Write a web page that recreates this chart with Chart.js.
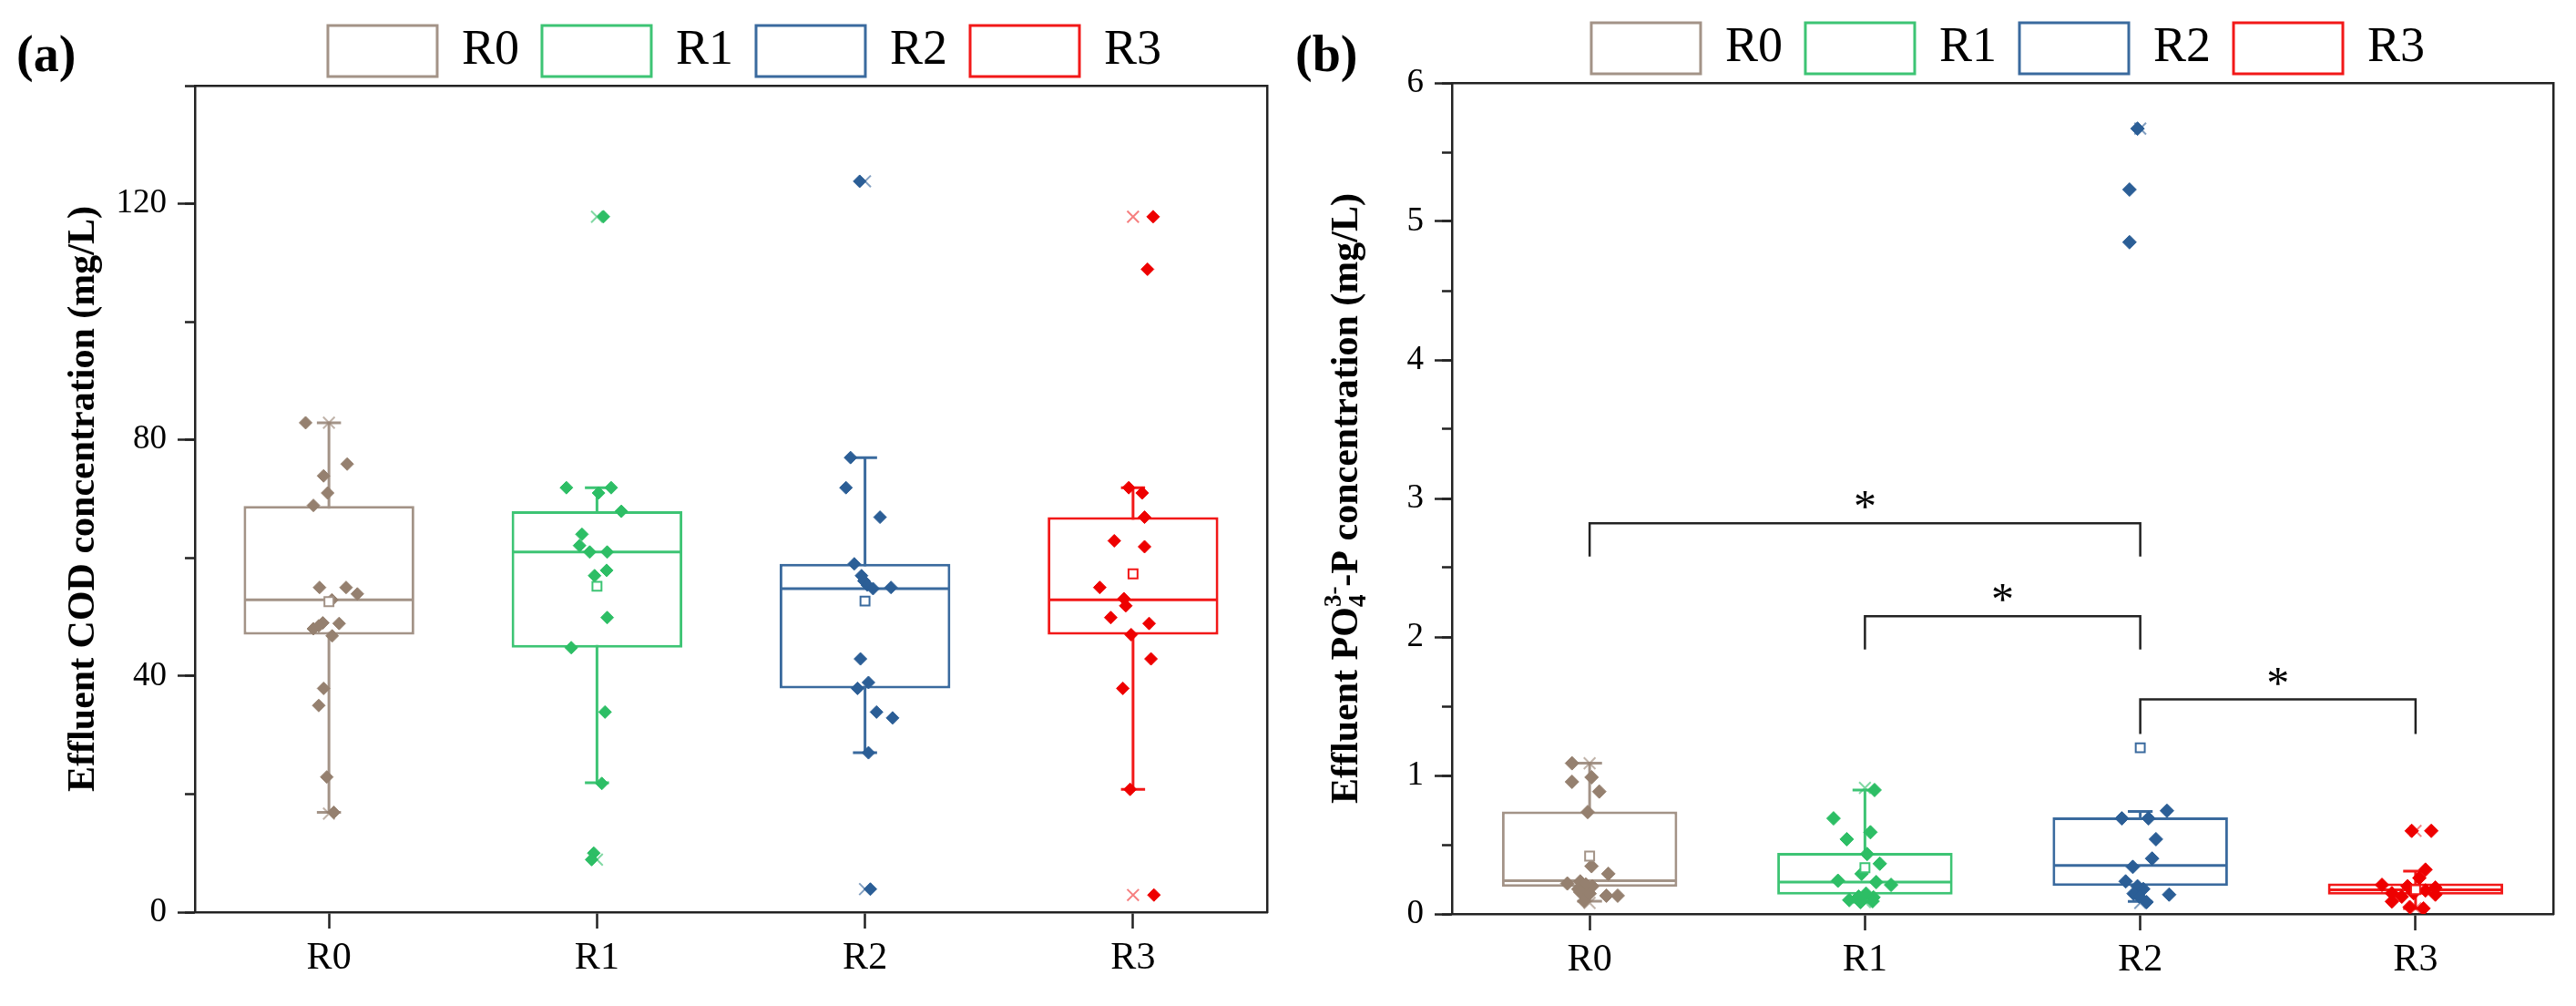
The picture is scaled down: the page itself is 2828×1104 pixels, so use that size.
<!DOCTYPE html>
<html>
<head>
<meta charset="utf-8">
<script src="https://cdn.jsdelivr.net/npm/chart.js@4.4.1/dist/chart.umd.min.js"></script>
<style>
html,body{margin:0;padding:0;background:#fff;}
#wrap{width:2828px;height:1104px;display:flex;}
.pane{width:1414px;height:1104px;position:relative;}
canvas{display:block;}
</style>
</head>
<body>
<div id="wrap">
  <div class="pane"><canvas id="ca" width="1414" height="1104"></canvas></div>
  <div class="pane"><canvas id="cb" width="1414" height="1104"></canvas></div>
</div>
<script>
// ---------------- DATA ----------------
const categories = ['R0', 'R1', 'R2', 'R3'];

// Panel (a): effluent COD (mg/L), individual observations and their horizontal jitter (category units)
const codR0 = [82.9, 75.9, 73.9, 71.0, 68.9, 55.0, 55.0, 53.9, 52.9, 49.0, 48.9, 48.5, 48.0, 46.8, 37.9, 35.0, 22.9, 16.9];
const codR0Jitter = [-0.087, 0.068, -0.020, -0.005, -0.058, -0.035, 0.064, 0.106, 0.011, -0.023, 0.038, -0.038, -0.058, 0.012, -0.020, -0.038, -0.008, 0.018];
const codR1 = [117.8, 71.9, 71.9, 71.0, 67.9, 64.0, 62.1, 61.0, 61.0, 57.9, 57.0, 49.9, 44.8, 33.9, 21.8, 10.0, 8.9];
const codR1Jitter = [0.024, -0.114, 0.053, 0.006, 0.091, -0.056, -0.065, -0.027, 0.038, 0.036, -0.009, 0.038, -0.096, 0.030, 0.018, -0.012, -0.020];
const codR2 = [123.8, 77.0, 71.9, 66.9, 59.0, 57.0, 56.1, 55.4, 54.8, 55.0, 42.9, 38.9, 37.9, 33.9, 32.9, 27.0, 3.9];
const codR2Jitter = [-0.020, -0.054, -0.071, 0.056, -0.040, -0.013, -0.004, 0.009, 0.030, 0.097, -0.017, 0.013, -0.028, 0.043, 0.103, 0.013, 0.020];
const codR3 = [117.8, 108.9, 71.9, 71.0, 66.9, 62.9, 61.9, 55.0, 53.1, 51.9, 49.9, 48.9, 47.0, 42.9, 37.9, 20.8, 2.9];
const codR3Jitter = [0.075, 0.054, -0.016, 0.034, 0.043, -0.070, 0.043, -0.124, -0.034, -0.027, -0.083, 0.060, -0.007, 0.067, -0.038, -0.011, 0.078];

const codQ1 = [47.0, 44.8, 37.9, 47.0];
const codMedian = [52.9, 61.0, 54.8, 52.9];
const codQ3 = [68.8, 67.9, 59.0, 66.9];
const codWhiskerLow = [16.9, 21.9, 27.0, 20.8];
const codWhiskerHigh = [82.9, 71.9, 77.0, 71.9];
const codMean = [52.6, 55.2, 52.7, 57.3];
const codMin = [16.7, 8.9, 3.9, 2.9];
const codMax = [82.9, 117.8, 123.8, 117.8];
const codTicks = [0, 40, 80, 120];
const codMinorTicks = [0, 20, 40, 60, 80, 100, 120, 140];

// Panel (b): effluent PO4(3-)-P (mg/L)
const poR0 = [1.088, 0.987, 0.954, 0.884, 0.736, 0.345, 0.290, 0.235, 0.220, 0.213, 0.200, 0.180, 0.158, 0.147, 0.132, 0.132, 0.092];
const poR0Jitter = [-0.064, 0.007, -0.064, 0.035, -0.007, 0.007, 0.068, -0.034, -0.081, -0.014, 0.010, -0.041, -0.034, 0.000, 0.061, 0.102, -0.020];
const poR1 = [0.895, 0.690, 0.590, 0.540, 0.433, 0.363, 0.290, 0.240, 0.230, 0.210, 0.147, 0.125, 0.120, 0.100, 0.092, 0.086];
const poR1Jitter = [0.035, -0.114, 0.020, -0.066, 0.008, 0.054, -0.012, -0.098, 0.041, 0.095, 0.004, -0.023, 0.031, -0.057, 0.028, -0.016];
const poR2 = [5.67, 5.23, 4.85, 0.745, 0.690, 0.690, 0.540, 0.400, 0.340, 0.235, 0.200, 0.180, 0.147, 0.140, 0.125, 0.086];
const poR2Jitter = [-0.010, -0.039, -0.039, 0.097, -0.067, 0.030, 0.057, 0.043, -0.027, -0.053, -0.010, 0.011, -0.024, 0.105, -0.003, 0.023];
const poR3 = [0.600, 0.600, 0.320, 0.260, 0.210, 0.200, 0.190, 0.170, 0.150, 0.150, 0.140, 0.125, 0.090, 0.050, 0.040];
const poR3Jitter = [-0.014, 0.057, 0.036, 0.014, -0.122, -0.029, 0.072, 0.036, -0.086, -0.007, 0.072, -0.050, -0.086, -0.021, 0.029];

const poQ1 = [0.196, 0.140, 0.202, 0.140];
const poMedian = [0.240, 0.230, 0.350, 0.175];
const poQ3 = [0.740, 0.440, 0.697, 0.220];
const poWhiskerLow = [0.092, 0.086, 0.090, 0.040];
const poWhiskerHigh = [1.088, 0.895, 0.740, 0.310];
const poMean = [0.418, 0.334, 1.200, 0.175];
const poMin = [0.080, 0.086, 0.080, 0.040];
const poMax = [1.088, 0.910, 5.670, 0.600];
const poTicks = [0, 1, 2, 3, 4, 5, 6];
const poMinorTicks = [0, 0.5, 1, 1.5, 2, 2.5, 3, 3.5, 4, 4.5, 5, 5.5, 6];

// Significance brackets (panel b)
const sigFrom = [0, 1, 2];
const sigTo = [2, 2, 3];
const sigTop = [2.82, 2.15, 1.55];
const sigLeg = [2.58, 1.91, 1.30];
const sigLabel = ['*', '*', '*'];

// ---------------- STYLE ----------------
const FONT = "'Liberation Serif', 'Times New Roman', serif";
const lineColors = ['#A39387', '#3DC474', '#3A6A9E', '#F21818'];
const pointColors = ['#95806F', '#2DBE65', '#2B5E96', '#EE0000'];
const crossColors = ['rgba(150,128,112,0.6)', 'rgba(45,190,101,0.6)', 'rgba(43,94,150,0.6)', 'rgba(238,0,0,0.5)'];
const AXIS = '#222';
const BOX_HALF = 0.3185;
const CAP_HALF = 0.045;

function boxDatasets(groups, jit, q1, med, q3, lo, hi, mean, mn, mx, ptR) {
  const ds = [];
  ds.push({
    type: 'bar',
    data: categories.map((c, i) => ({ x: i, y: [q1[i], q3[i]] })),
    backgroundColor: '#ffffff', borderColor: lineColors, borderWidth: 3,
    borderSkipped: false, barPercentage: BOX_HALF * 2, categoryPercentage: 1,
    grouped: false, order: 9
  });
  categories.forEach((c, i) => {
    ds.push({
      type: 'line',
      data: [
        { x: i - CAP_HALF, y: lo[i] }, { x: i + CAP_HALF, y: lo[i] }, { x: i, y: null },
        { x: i, y: lo[i] }, { x: i, y: hi[i] }, { x: i, y: null },
        { x: i - CAP_HALF, y: hi[i] }, { x: i + CAP_HALF, y: hi[i] }
      ],
      borderColor: lineColors[i], borderWidth: 3, pointRadius: 0, fill: false,
      spanGaps: false, order: 10
    });
    ds.push({
      type: 'line',
      data: [{ x: i - BOX_HALF + 0.004, y: med[i] }, { x: i + BOX_HALF - 0.004, y: med[i] }],
      borderColor: lineColors[i], borderWidth: 3, pointRadius: 0, fill: false, order: 8
    });
    ds.push({
      type: 'scatter',
      data: groups[i].map((v, k) => ({ x: i + jit[i][k], y: v })),
      pointStyle: 'rectRot', pointRadius: ptR, backgroundColor: pointColors[i],
      borderColor: pointColors[i], borderWidth: 1, order: 3
    });
    ds.push({
      type: 'scatter',
      data: [{ x: i, y: mn[i] }, { x: i, y: mx[i] }],
      pointStyle: 'crossRot', pointRadius: 9, borderColor: crossColors[i],
      backgroundColor: crossColors[i], borderWidth: 2, order: 4
    });
    ds.push({
      type: 'scatter',
      data: [{ x: i, y: mean[i] }],
      pointStyle: 'rect', pointRadius: 7, backgroundColor: '#ffffff',
      borderColor: lineColors[i], borderWidth: 2, order: 2
    });
  });
  return ds;
}

function bracketDatasets() {
  return sigFrom.map((a, k) => ({
    type: 'line',
    data: [
      { x: a, y: sigLeg[k] }, { x: a, y: sigTop[k] },
      { x: sigTo[k], y: sigTop[k] }, { x: sigTo[k], y: sigLeg[k] }
    ],
    borderColor: AXIS, borderWidth: 2.5, pointRadius: 0, fill: false, order: 1
  }));
}

function panelLabel(text, x) {
  return {
    id: 'panelLabel',
    afterDraw(chart) {
      const ctx = chart.ctx;
      ctx.save();
      ctx.font = `bold 56px ${FONT}`;
      ctx.fillStyle = '#000';
      ctx.textBaseline = 'middle';
      ctx.textAlign = 'left';
      ctx.fillText(text, x, 64);
      ctx.restore();
    }
  };
}

// nudges the legend row horizontally (the reference sets its text closer to the boxes)
function legendNudge(dx) {
  return {
    id: 'legendNudge',
    afterLayout(chart) {
      const lg = chart.legend;
      if (!lg) return;
      lg.left += dx; lg.right += dx;
      if (lg.legendHitBoxes) lg.legendHitBoxes.forEach(h => { h.left += dx; });
    }
  };
}

const starPlugin = {
  id: 'stars',
  afterDatasetsDraw(chart) {
    const ctx = chart.ctx, xs = chart.scales.x, ys = chart.scales.y;
    ctx.save();
    ctx.font = `50px ${FONT}`;
    ctx.fillStyle = '#000';
    ctx.textAlign = 'center';
    ctx.textBaseline = 'middle';
    sigFrom.forEach((a, k) => {
      const px = xs.getPixelForValue((a + sigTo[k]) / 2);
      const py = ys.getPixelForValue(sigTop[k]) - 15;
      ctx.fillText(sigLabel[k], px, py);
    });
    ctx.restore();
  }
};

const richTitle = {
  id: 'richTitle',
  afterDraw(chart) {
    const ctx = chart.ctx, a = chart.chartArea;
    const t1 = 'Effluent PO', sub = '4', sup = '3-', t2 = '-P concentration (mg/L)';
    const big = `bold 42px ${FONT}`, small = `bold 27px ${FONT}`;
    ctx.save();
    ctx.translate(62, (a.top + a.bottom) / 2);
    ctx.rotate(-Math.PI / 2);
    ctx.fillStyle = '#000';
    ctx.textBaseline = 'alphabetic';
    ctx.textAlign = 'left';
    ctx.font = big;
    const w1 = ctx.measureText(t1).width, w2 = ctx.measureText(t2).width;
    ctx.font = small;
    const ws = Math.max(ctx.measureText(sub).width, ctx.measureText(sup).width);
    const total = w1 + ws + w2;
    const x0 = -total / 2, base = 14;
    ctx.font = big;
    ctx.fillText(t1, x0, base);
    ctx.font = small;
    ctx.fillText(sub, x0 + w1, base + 9);
    ctx.fillText(sup, x0 + w1, base - 18);
    ctx.font = big;
    ctx.fillText(t2, x0 + w1 + ws, base);
    ctx.restore();
  }
};

function makeOptions(o) {
  return {
    responsive: false,
    devicePixelRatio: 1,
    animation: false,
    events: [],
    layout: { padding: o.padding },
    plugins: {
      tooltip: { enabled: false },
      legend: {
        display: true,
        position: 'top',
        fullSize: false,
        labels: {
          boxWidth: 120, boxHeight: 56, padding: 25, color: '#000',
          font: { family: FONT, size: 54 },
          generateLabels: () => categories.map((c, i) => ({
            text: c, fillStyle: '#ffffff', strokeStyle: lineColors[i], lineWidth: 3,
            hidden: false, datasetIndex: 0, fontColor: '#000'
          }))
        }
      }
    },
    scales: {
      x: {
        type: 'linear', position: 'bottom', min: -0.5, max: 3.5, offset: false,
        afterBuildTicks: s => { s.ticks = categories.map((c, i) => ({ value: i })); },
        afterFit: s => { s.height = o.xHeight; },
        ticks: {
          callback: v => categories[v], color: '#000', padding: 8,
          autoSkip: false, maxRotation: 0, font: { family: FONT, size: 42 }
        },
        grid: { offset: false, drawOnChartArea: false, drawTicks: true, tickLength: 18, tickWidth: 2.5, tickColor: AXIS },
        border: { display: true, color: AXIS, width: 2.5 }
      },
      xTop: {
        type: 'linear', position: 'top', min: -0.5, max: 3.5, offset: false,
        afterFit: s => { s.height = 0; },
        ticks: { display: false },
        grid: { offset: false, drawOnChartArea: false, drawTicks: false },
        border: { display: true, color: AXIS, width: 2.5 }
      },
      y: {
        type: 'linear', position: 'left', min: 0, max: o.yMax, weight: 1,
        afterBuildTicks: s => { s.ticks = o.ticks.map(v => ({ value: v })); },
        afterFit: s => { s.width = o.yWidth; },
        ticks: { color: '#000', padding: 12, font: { family: FONT, size: 37 } },
        grid: { drawOnChartArea: false, drawTicks: true, tickLength: 19, tickWidth: 2.5, tickColor: AXIS },
        border: { display: true, color: AXIS, width: 2.5 },
        title: {
          display: !!o.title, text: o.title || '', color: '#000',
          font: { family: FONT, size: 42, weight: 'bold' },
          padding: { top: 67, bottom: 0 }
        }
      },
      yMinor: {
        type: 'linear', position: 'left', min: 0, max: o.yMax, weight: 0,
        afterBuildTicks: s => { s.ticks = o.minorTicks.map(v => ({ value: v })); },
        afterFit: s => { s.width = 0; },
        ticks: { display: false },
        grid: { drawOnChartArea: false, drawTicks: true, tickLength: 11, tickWidth: 2.5, tickColor: AXIS },
        border: { display: false }
      },
      yRight: {
        type: 'linear', position: 'right', min: 0, max: o.yMax,
        afterFit: s => { s.width = 0; },
        ticks: { display: false },
        grid: { drawOnChartArea: false, drawTicks: false },
        border: { display: true, color: AXIS, width: 2.5 }
      }
    }
  };
}

// ---------------- PANEL (a) ----------------
new Chart(document.getElementById('ca'), {
  type: 'scatter',
  data: {
    datasets: boxDatasets(
      [codR0, codR1, codR2, codR3],
      [codR0Jitter, codR1Jitter, codR2Jitter, codR3Jitter],
      codQ1, codMedian, codQ3, codWhiskerLow, codWhiskerHigh, codMean, codMin, codMax, 7)
  },
  options: makeOptions({
    padding: { top: 3, right: 23, bottom: 0, left: 0 },
    xHeight: 103, yWidth: 214, yMax: 140,
    ticks: codTicks, minorTicks: codMinorTicks,
    title: 'Effluent COD concentration (mg/L)'
  }),
  plugins: [panelLabel('(a)', 18), legendNudge(15)]
});

// ---------------- PANEL (b) ----------------
new Chart(document.getElementById('cb'), {
  type: 'scatter',
  data: {
    datasets: boxDatasets(
      [poR0, poR1, poR2, poR3],
      [poR0Jitter, poR1Jitter, poR2Jitter, poR3Jitter],
      poQ1, poMedian, poQ3, poWhiskerLow, poWhiskerHigh, poMean, poMin, poMax, 7.5)
      .concat(bracketDatasets())
  },
  options: makeOptions({
    padding: { top: 0, right: 25, bottom: 0, left: 0 },
    xHeight: 101, yWidth: 180, yMax: 6,
    ticks: poTicks, minorTicks: poMinorTicks,
    title: null
  }),
  plugins: [panelLabel('(b)', 8), starPlugin, richTitle, legendNudge(6)]
});
</script>
</body>
</html>
